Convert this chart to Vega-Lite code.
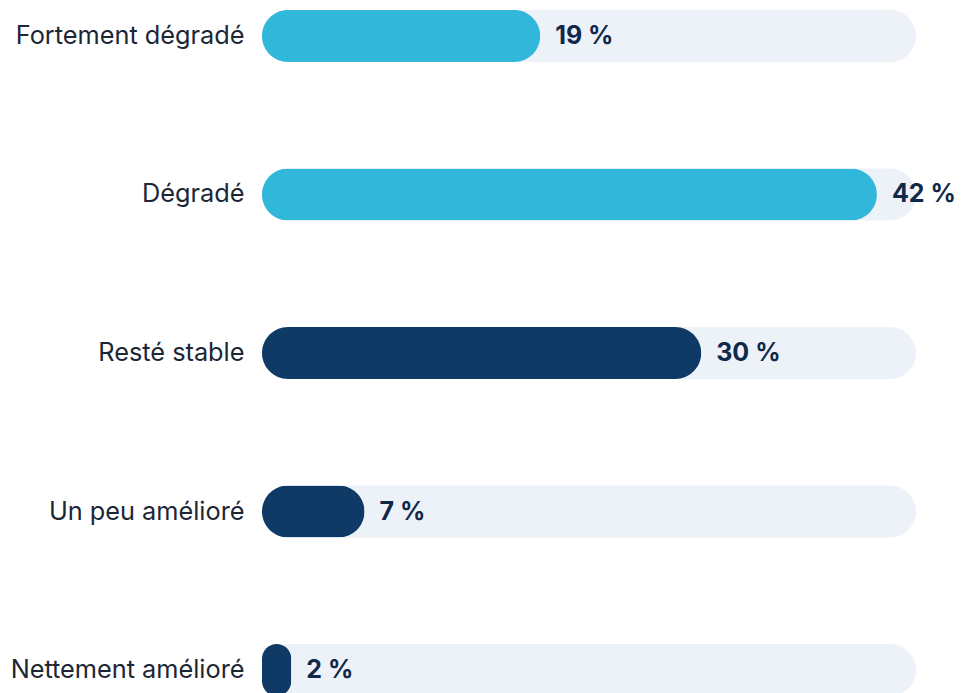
{
  "$schema": "https://vega.github.io/schema/vega-lite/v6.json",
  "width": 654,
  "height": 706,
  "autosize": {"type": "none"},
  "padding": {"left": 262, "right": 45, "top": 0, "bottom": 0},
  "background": "#ffffff",
  "config": {"view": {"stroke": null}, "font": "Inter"},
  "data": {
    "values": [
      {"categorie": "Fortement dégradé", "pct": 19, "sens": "dégradé"},
      {"categorie": "Dégradé", "pct": 42, "sens": "dégradé"},
      {"categorie": "Resté stable", "pct": 30, "sens": "autre"},
      {"categorie": "Un peu amélioré", "pct": 7, "sens": "autre"},
      {"categorie": "Nettement amélioré", "pct": 2, "sens": "autre"}
    ]
  },
  "transform": [{"calculate": "datum.pct + ' %'", "as": "label"}],
  "encoding": {
    "y": {
      "field": "categorie",
      "type": "nominal",
      "sort": null,
      "scale": {"paddingInner": 0.672, "paddingOuter": 0.063},
      "axis": {
        "title": null,
        "domain": false,
        "ticks": false,
        "labelFont": "Inter",
        "labelFontSize": 25.3,
        "labelColor": "#1b2636",
        "labelPadding": 18,
        "labelLimit": 400
      }
    }
  },
  "layer": [
    {
      "mark": {"type": "bar", "color": "#edf2f9", "cornerRadius": 26},
      "encoding": {
        "x": {"datum": 0, "type": "quantitative", "scale": {"domain": [0, 44.67], "nice": false, "zero": true}, "axis": null},
        "x2": {"datum": 44.67}
      }
    },
    {
      "mark": {"type": "bar", "cornerRadius": 26},
      "encoding": {
        "x": {"field": "pct", "type": "quantitative"},
        "color": {
          "field": "sens",
          "type": "nominal",
          "scale": {"domain": ["dégradé", "autre"], "range": ["#31b7da", "#0f3a66"]},
          "legend": null
        }
      }
    },
    {
      "mark": {"type": "text", "align": "left", "baseline": "middle", "dx": 15, "font": "Inter", "fontSize": 25, "fontWeight": "bold", "color": "#10284a"},
      "encoding": {
        "x": {"field": "pct", "type": "quantitative"},
        "text": {"field": "label"}
      }
    }
  ]
}
